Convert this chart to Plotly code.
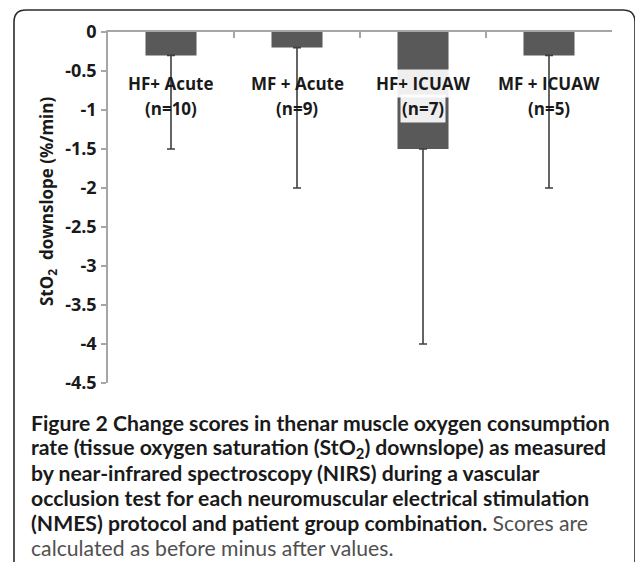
import plotly.graph_objects as go

# ---- data ----
categories = ["HF+ Acute", "MF + Acute", "HF+ ICUAW", "MF + ICUAW"]
n_labels = ["(n=10)", "(n=9)", "(n=7)", "(n=5)"]
means = [-0.3, -0.2, -1.5, -0.3]
err_minus = [1.2, 1.8, 2.5, 1.7]
y_tickvals = [0, -0.5, -1, -1.5, -2, -2.5, -3, -3.5, -4, -4.5]
y_ticktext = ["0", "-0.5", "-1", "-1.5", "-2", "-2.5", "-3", "-3.5", "-4", "-4.5"]
caption_lines = [
    "<b>Figure 2 Change scores in thenar muscle oxygen consumption</b>",
    "<b>rate (tissue oxygen saturation (StO<sub>2</sub>) downslope) as measured</b>",
    "<b>by near-infrared spectroscopy (NIRS) during a vascular</b>",
    "<b>occlusion test for each neuromuscular electrical stimulation</b>",
    "<b>(NMES) protocol and patient group combination.</b> <span style='color:#505050'>Scores are</span>",
    "<span style='color:#505050'>calculated as before minus after values.</span>",
]

W, H = 635, 564
L, R, T, B = 108, 612, 32, 383  # plot area in pixels


def px(x):
    return (x - L) / (R - L)


def py(y):
    return (B - y) / (B - T)


fig = go.Figure()
fig.add_trace(go.Bar(
    x=categories, y=means,
    marker=dict(color="#595959", line=dict(width=0)),
    error_y=dict(type="data", symmetric=False, array=[0] * len(means),
                 arrayminus=err_minus, color="#3f3f3f", thickness=1.6, width=4),
    width=0.405,
))

lab_font = dict(family="Open Sans", size=17, color="#1a1a1a", weight="bold")
annotations = []
for i, (c, n) in enumerate(zip(categories, n_labels)):
    bg = "rgba(255,255,255,0.9)" if i == 2 else "rgba(0,0,0,0)"
    annotations.append(dict(x=c, y=-0.66, xref="x", yref="y", text=c, showarrow=False,
                            font=lab_font, bgcolor=bg, height=25,
                            xanchor="center", yanchor="middle"))
    annotations.append(dict(x=c, y=-0.98, xref="x", yref="y", text=n, showarrow=False,
                            font=lab_font, bgcolor=bg, height=25,
                            xanchor="center", yanchor="middle"))

# y axis title
annotations.append(dict(x=px(47), y=py(202), xref="paper", yref="paper",
                        text="StO<sub>2</sub>  downslope (%/min)", textangle=-90,
                        showarrow=False,
                        font=dict(family="Open Sans", size=17, color="#1a1a1a", weight="bold"),
                        xanchor="center", yanchor="middle"))

for k, line in enumerate(caption_lines):
    annotations.append(dict(x=px(29), y=py(423 + 25 * k), xref="paper", yref="paper",
                            text=line, showarrow=False, align="left",
                            xanchor="left", yanchor="middle", height=24,
                            font=dict(family="Lato", size=21.2, color="#1a1a1a")))

# rounded border (top and left, top-right corner)
r = 12
path = (f"M {px(14)},{py(562)} L {px(14)},{py(10 + r)} "
        f"Q {px(14)},{py(10)} {px(14 + r)},{py(10)} "
        f"L {px(635 - r)},{py(10)} Q {px(635)},{py(10)} {px(635)},{py(10 + r)} "
        f"L {px(635)},{py(562)}")
shapes = [dict(type="path", path=path, xref="paper", yref="paper",
               line=dict(color="#2b2b2b", width=1.6), layer="above")]

fig.update_layout(
    width=W, height=H,
    margin=dict(l=L, r=W - R, t=T, b=H - B),
    paper_bgcolor="white", plot_bgcolor="white",
    showlegend=False,
    annotations=annotations,
    shapes=shapes,
    xaxis=dict(side="top", type="category", tickson="boundaries", ticks="inside",
               ticklen=6, tickcolor="#a6a6a6", tickwidth=1.5, showticklabels=False,
               showline=True, linecolor="#a6a6a6", linewidth=1.5, showgrid=False,
               zeroline=False, range=[-0.5, 3.5], automargin=False),
    yaxis=dict(range=[-4.5, 0], tickvals=y_tickvals, ticktext=y_ticktext,
               ticks="outside", ticklen=5, tickcolor="#a6a6a6", tickwidth=1.5,
               showline=True, linecolor="#a6a6a6", linewidth=1.5, showgrid=False,
               zeroline=False, ticklabelstandoff=1, automargin=False,
               tickfont=dict(family="Open Sans", size=18, color="#1a1a1a", weight="bold")),
)

fig.write_html("out.html", config={"displayModeBar": False},
               post_script="document.body.style.margin='0';")
